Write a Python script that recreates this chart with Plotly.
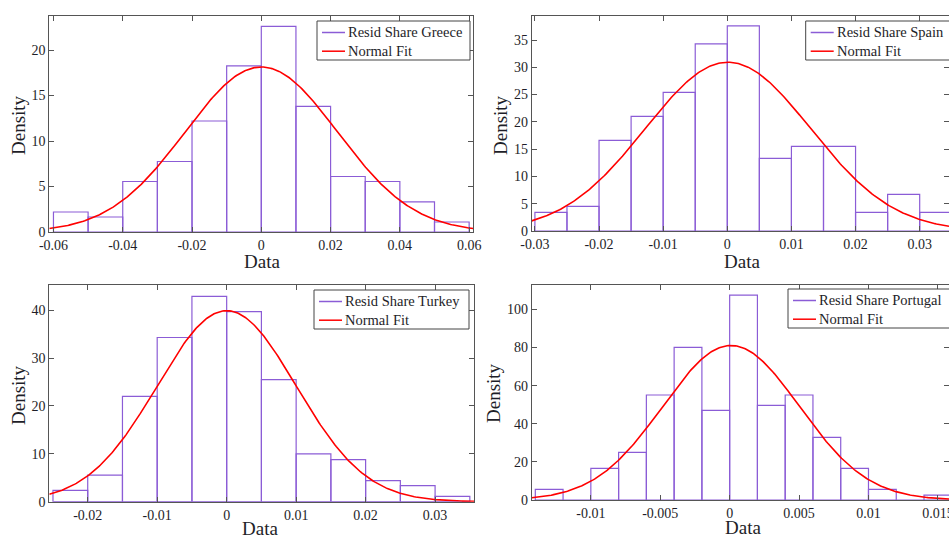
import numpy as np
import plotly.graph_objects as go

# ---------------- data ----------------
countries = ["Greece", "Spain", "Turkey", "Portugal"]

greece_edge0, greece_bw = -0.06, 0.01
greece_density = [2.2, 1.65, 5.55, 7.75, 12.2, 18.25, 22.6, 13.8, 6.1, 5.55, 3.3, 1.1]
greece_mu, greece_sigma = 0.0, 0.0220

spain_edge0, spain_bw = -0.03, 0.005
spain_density = [3.42, 4.5, 16.6, 21.0, 25.4, 34.3, 37.6, 13.3, 15.5, 15.5, 3.42, 6.7, 3.42]
spain_mu, spain_sigma = 0.0001, 0.0129

turkey_edge0, turkey_bw = -0.025, 0.005
turkey_density = [2.35, 5.55, 22.0, 34.3, 42.9, 39.7, 25.5, 10.0, 8.8, 4.4, 3.35, 1.1]
turkey_mu, turkey_sigma = 0.0, 0.0100

portugal_edge0, portugal_bw = -0.014, 0.002
portugal_density = [5.6, 0.0, 16.6, 25.0, 55.1, 80.1, 47.0, 107.5, 49.7, 55.1, 32.9, 16.6, 5.6, 0.0, 2.6]
portugal_mu, portugal_sigma = 0.0001, 0.00492

x_ranges = [[-0.0612, 0.0612], [-0.0305, 0.03457], [-0.02553, 0.0356], [-0.01426, 0.0158]]
y_ranges = [[0, 23.74], [0, 39.4], [0, 45.2], [0, 113]]

x_tickvals = [[-0.06, -0.04, -0.02, 0, 0.02, 0.04, 0.06],
              [-0.03, -0.02, -0.01, 0, 0.01, 0.02, 0.03],
              [-0.02, -0.01, 0, 0.01, 0.02, 0.03],
              [-0.01, -0.005, 0, 0.005, 0.01, 0.015]]
x_ticktext = [["-0.06", "-0.04", "-0.02", "0", "0.02", "0.04", "0.06"],
              ["-0.03", "-0.02", "-0.01", "0", "0.01", "0.02", "0.03"],
              ["-0.02", "-0.01", "0", "0.01", "0.02", "0.03"],
              ["-0.01", "-0.005", "0", "0.005", "0.01", "0.015"]]
y_tickvals = [[0, 5, 10, 15, 20],
              [0, 5, 10, 15, 20, 25, 30, 35],
              [0, 10, 20, 30, 40],
              [0, 20, 40, 60, 80, 100]]
x_title = "Data"
y_title = "Density"
fit_label = "Normal Fit"

# ---------------- style ----------------
W, H = 949, 538
PURPLE = "#8B5CD6"
RED = "#FF0000"
AXC = "#555555"
TXT = "#1e1e28"
FONT = "Liberation Serif"

# pixel layout of the four plot areas (left, right, top, bottom)
boxes = [(49.3, 473.3, 16, 232), (531.7, 949, 16, 231),
         (49.3, 474, 285.3, 501.7), (531.7, 949, 284.7, 500)]
# legend box (left, top, right)
legend_box = [(317, 21, 470), (805.7, 21, 1000), (314, 290, 469), (788, 289, 1000)]
# axis-title centres (px)
ytitle_pos = [(18, 125), (500, 125), (18, 395), (493, 393)]
xtitle_pos = [(262, 261), (742, 261), (260, 528), (743, 527.5)]

series = [
    (greece_edge0, greece_bw, greece_density, greece_mu, greece_sigma),
    (spain_edge0, spain_bw, spain_density, spain_mu, spain_sigma),
    (turkey_edge0, turkey_bw, turkey_density, turkey_mu, turkey_sigma),
    (portugal_edge0, portugal_bw, portugal_density, portugal_mu, portugal_sigma),
]

fig = go.Figure()
layout = dict(width=W, height=H, margin=dict(l=0, r=0, t=0, b=0, autoexpand=False),
              paper_bgcolor="white", plot_bgcolor="white", showlegend=False,
              font=dict(family=FONT, color=TXT))
shapes, annotations = [], []

def px(x):
    return x / W

def py(y):
    return 1 - y / H

for i, (name, (e0, bw, dens, mu, sg)) in enumerate(zip(countries, series)):
    k = "" if i == 0 else str(i + 1)
    xa, ya = "x" + k, "y" + k
    centers = [e0 + bw * (j + 0.5) for j in range(len(dens))]
    fig.add_trace(go.Bar(x=centers, y=dens, width=[bw] * len(dens), xaxis=xa, yaxis=ya,
                         marker=dict(color="rgba(255,255,255,0)", line=dict(color=PURPLE, width=1.2)),
                         name="Resid Share " + name, hoverinfo="skip"))
    xr = x_ranges[i]
    xs = np.linspace(xr[0], xr[1], 300)
    pdf = np.exp(-0.5 * ((xs - mu) / sg) ** 2) / (sg * np.sqrt(2 * np.pi))
    fig.add_trace(go.Scatter(x=xs, y=pdf, mode="lines", xaxis=xa, yaxis=ya,
                             line=dict(color=RED, width=1.6), name=fit_label))

    l, r, t, b = boxes[i]
    common = dict(showline=True, linecolor=AXC, linewidth=1, mirror="ticks", ticks="inside",
                  ticklen=5, tickcolor=AXC, showgrid=False, zeroline=False, automargin=False,
                  tickangle=0, ticklabeloverflow="allow",
                  tickfont=dict(family=FONT, size=14, color=TXT))
    layout["xaxis" + k] = dict(domain=[px(l), min(px(r), 1.0)], range=xr, anchor=ya,
                               tickmode="array", tickvals=x_tickvals[i], ticktext=x_ticktext[i],
                               **common)
    layout["yaxis" + k] = dict(domain=[py(b), py(t)], range=y_ranges[i], anchor=xa,
                               tickmode="array", tickvals=y_tickvals[i], **common)

    # axis titles
    tx, ty = ytitle_pos[i]
    annotations.append(dict(text=y_title, x=px(tx), y=py(ty), xref="paper", yref="paper",
                            showarrow=False, textangle=-90, xanchor="center", yanchor="middle",
                            font=dict(family=FONT, size=19, color=TXT)))
    tx, ty = xtitle_pos[i]
    annotations.append(dict(text=x_title, x=px(tx), y=py(ty), xref="paper", yref="paper",
                            showarrow=False, xanchor="center", yanchor="middle",
                            font=dict(family=FONT, size=19, color=TXT)))

    # legend (MATLAB-style box)
    bx0, by0, bx1 = legend_box[i]
    shapes.append(dict(type="rect", xref="paper", yref="paper", x0=px(bx0), x1=px(bx1),
                       y0=py(by0), y1=py(by0 + 39), fillcolor="white",
                       line=dict(color="#444444", width=1), layer="above"))
    for dy, col in ((11.5, PURPLE), (30.2, RED)):
        shapes.append(dict(type="line", xref="paper", yref="paper", x0=px(bx0 + 5), x1=px(bx0 + 28),
                           y0=py(by0 + dy), y1=py(by0 + dy), line=dict(color=col, width=1.5),
                           layer="above"))
    annotations.append(dict(text="Resid Share " + name + "<br>" + fit_label,
                            x=px(bx0 + 30), y=py(by0 + 20.8), xref="paper", yref="paper",
                            showarrow=False, xanchor="left", yanchor="middle", align="left",
                            borderpad=0, font=dict(family=FONT, size=14.5, color=TXT)))

layout["shapes"] = shapes
layout["annotations"] = annotations
fig.update_layout(**layout)
fig.write_html("out.html")
